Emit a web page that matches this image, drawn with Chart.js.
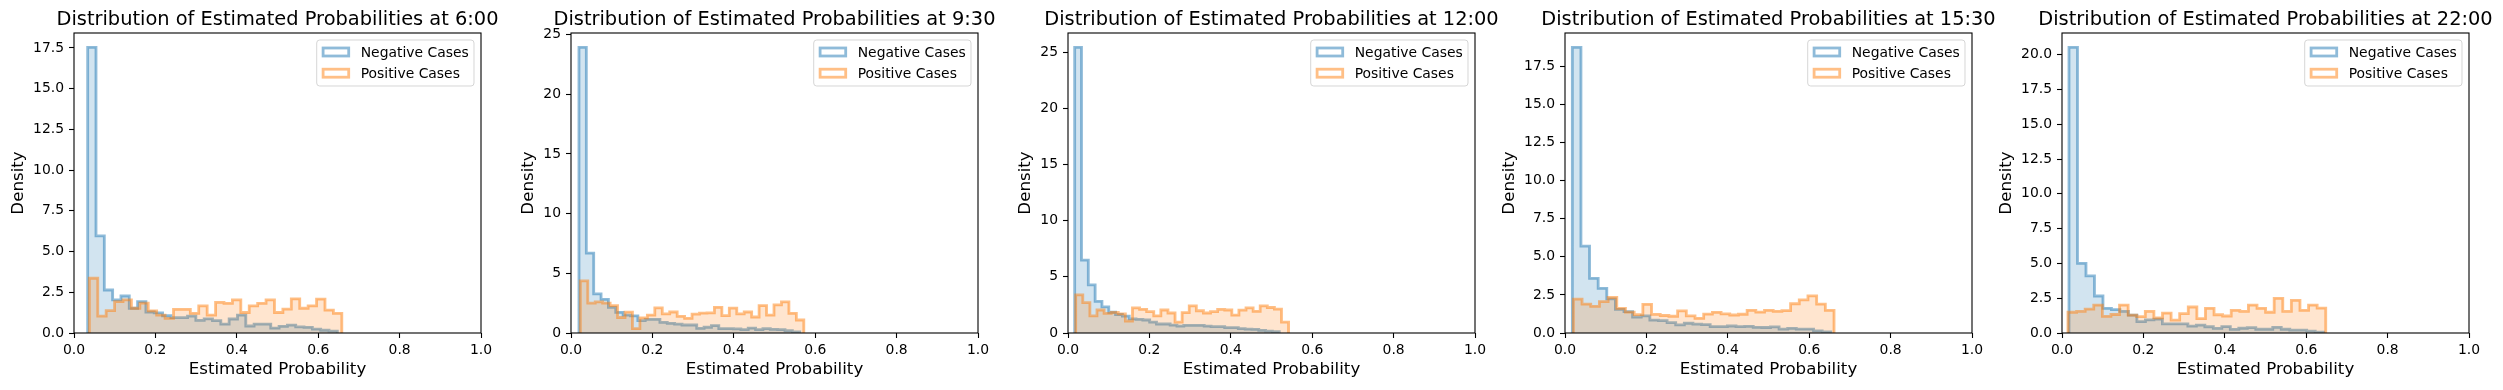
<!DOCTYPE html>
<html>
<head>
<meta charset="utf-8">
<script src="https://cdn.jsdelivr.net/npm/chart.js@4.4.1/dist/chart.umd.min.js"></script>
<style>
  html, body { margin: 0; padding: 0; background: #fff; overflow: hidden; }
  #wrap { position: relative; width: 2503px; height: 390px; }
  #wrap canvas { position: absolute; top: 0; }
</style>
</head>
<body>
<div id="wrap"></div>
<script>
// snapshot times, one panel each
const times = ['6:00', '9:30', '12:00', '15:30', '22:00'];

// histogram range [min, max] of each series, 30 equal bins
const negRanges = [[0.0336, 0.647], [0.0196, 0.562], [0.0164, 0.519], [0.018, 0.653], [0.0172, 0.643]];
const posRanges = [[0.0377, 0.658], [0.0229, 0.572], [0.0189, 0.542], [0.0205, 0.661], [0.0147, 0.648]];

// density per bin
const neg600 = [17.54, 5.96, 2.64, 2.03, 2.27, 1.52, 1.93, 1.29, 1.23, 1.06, 0.94, 0.94, 1.03, 0.77, 0.87,
                0.76, 0.55, 0.86, 1.1, 0.43, 0.54, 0.54, 0.3, 0.41, 0.48, 0.37, 0.35, 0.24, 0.17, 0.11];
const pos600 = [3.36, 1.03, 1.37, 1.93, 2.03, 1.52, 1.84, 1.36, 1.1, 0.9, 1.45, 1.45, 1.21, 1.66, 1.1,
                1.88, 1.82, 2.03, 1.26, 1.66, 1.82, 2.03, 1.26, 1.46, 2.1, 1.52, 1.67, 2.08, 1.41, 1.21];
const neg930 = [23.94, 6.7, 3.27, 2.82, 2.15, 1.73, 1.5, 1.44, 1.03, 1.15, 1.15, 0.89, 0.81, 0.74, 0.67,
                0.67, 0.39, 0.48, 0.62, 0.37, 0.37, 0.34, 0.29, 0.41, 0.29, 0.36, 0.3, 0.28, 0.19, 0.1];
const pos930 = [4.36, 2.5, 2.6, 2.5, 2.3, 1.3, 1.75, 0.37, 1.27, 1.5, 2.1, 1.6, 1.76, 1.4, 1.23,
                1.58, 1.67, 1.68, 2.15, 1.45, 2.08, 1.6, 1.76, 1.34, 2.3, 1.5, 2.35, 2.6, 1.65, 1.09];
const neg1200 = [25.45, 6.5, 4.28, 2.82, 2.32, 1.85, 1.65, 1.5, 1.25, 1.22, 1.16, 0.96, 0.8, 0.8, 0.71,
                 0.62, 0.68, 0.68, 0.68, 0.62, 0.56, 0.56, 0.48, 0.48, 0.39, 0.35, 0.33, 0.24, 0.16, 0.12];
const pos1200 = [3.39, 2.7, 1.52, 2.05, 1.75, 1.84, 1.7, 1.07, 2.23, 2.11, 1.9, 1.53, 2.05, 1.78, 0.96,
                 1.82, 2.41, 1.98, 1.78, 1.9, 2.1, 2.05, 1.6, 2.03, 2.23, 1.93, 2.41, 2.27, 2.12, 0.96];
const neg1530 = [18.75, 5.7, 3.59, 2.93, 2.24, 1.55, 1.4, 1.05, 1.12, 0.85, 0.81, 0.68, 0.53, 0.64, 0.58,
                 0.55, 0.42, 0.42, 0.46, 0.42, 0.44, 0.37, 0.36, 0.4, 0.25, 0.31, 0.26, 0.26, 0.14, 0.08];
const pos1530 = [2.22, 1.9, 1.75, 2.06, 2.33, 1.62, 1.37, 1.2, 1.88, 1.22, 1.15, 1.1, 1.45, 1.12, 0.96,
                 1.24, 1.36, 1.25, 1.18, 1.23, 1.49, 1.37, 1.49, 1.42, 1.47, 1.92, 2.17, 2.43, 1.9, 1.49];
const neg2200 = [20.53, 5.01, 4.1, 2.66, 1.77, 1.68, 1.55, 1.29, 0.82, 0.94, 1.0, 0.65, 0.65, 0.65, 0.5,
                 0.56, 0.45, 0.33, 0.46, 0.26, 0.34, 0.38, 0.27, 0.27, 0.4, 0.27, 0.2, 0.2, 0.13, 0.06];
const pos2200 = [1.49, 1.55, 1.72, 2.01, 1.2, 1.33, 2.01, 1.29, 1.18, 1.55, 1.08, 1.43, 0.92, 1.39, 1.87,
                 1.04, 1.77, 1.31, 1.22, 1.63, 1.55, 2.01, 1.77, 1.49, 2.49, 1.55, 2.35, 1.63, 2.01, 1.79];

const negSeries = [neg600, neg930, neg1200, neg1530, neg2200];
const posSeries = [pos600, pos930, pos1200, pos1530, pos2200];

// y tick spacing and label decimals per panel
const yStep = [2.5, 5, 5, 2.5, 2.5];
const yDecimals = [1, 0, 0, 1, 1];
const xTickStep = 0.2;

const FONT = 'DejaVu Sans';
Chart.defaults.font.family = FONT;
Chart.defaults.color = '#000';

// step outline ('before' stepping): each point holds its bin height until the next edge
function stepPoints(range, heights) {
    const n = heights.length;
    const w = (range[1] - range[0]) / n;
    const pts = [{ x: range[0], y: 0 }];
    heights.forEach((h, i) => pts.push({ x: range[0] + i * w, y: h }));
    pts.push({ x: range[1], y: 0 });
    return pts;
}

const decor = {
    id: 'decor',
    afterDraw(chart, args, opts) {
        const { ctx, chartArea: a } = chart;
        ctx.save();
        // axes frame
        ctx.strokeStyle = '#000';
        ctx.lineWidth = 1.1;
        ctx.strokeRect(a.left, a.top, a.right - a.left, a.bottom - a.top);

        // title
        ctx.fillStyle = '#000';
        ctx.font = '19.4px "' + FONT + '"';
        ctx.textAlign = 'center';
        ctx.textBaseline = 'alphabetic';
        ctx.fillText(opts.title, (a.left + a.right) / 2, 25);

        // legend
        const fx = a.right - 164.3, fy = a.top + 7, fw = 157.3, fh = 46;
        ctx.beginPath();
        ctx.roundRect(fx, fy, fw, fh, 3);
        ctx.fillStyle = 'rgba(255,255,255,0.8)';
        ctx.fill();
        ctx.strokeStyle = 'rgba(204,204,204,0.8)';
        ctx.lineWidth = 1;
        ctx.stroke();

        const rows = [
            { label: 'Negative Cases', color: 'rgba(31,119,180,0.5)', cy: a.top + 19 },
            { label: 'Positive Cases', color: 'rgba(255,127,14,0.5)', cy: a.top + 40.2 }
        ];
        ctx.font = '13.9px "' + FONT + '"';
        ctx.textAlign = 'left';
        rows.forEach(r => {
            ctx.strokeStyle = r.color;
            ctx.lineWidth = 2.8;
            ctx.strokeRect(fx + 19.2 - 12.8, r.cy - 4, 25.6, 8);
            ctx.fillStyle = '#000';
            ctx.fillText(r.label, fx + 44, r.cy + 4.9);
        });
        ctx.restore();
    }
};

const wrap = document.getElementById('wrap');

function renderPanel(i) {
    const canvas = document.createElement('canvas');
    canvas.width = 505;
    canvas.height = 390;
    canvas.style.left = (i * 497) + 'px';
    wrap.appendChild(canvas);

    const yMax = Math.max(...negSeries[i], ...posSeries[i]) * 1.05;
    const tickFont = { family: FONT, size: 13.9 };
    const labelFont = { family: FONT, size: 16.67 };
    const yTitlePad = (i === 1 || i === 2) ? 22 : 9;

    new Chart(canvas.getContext('2d'), {
        type: 'line',
        data: {
            datasets: [{
                label: 'Negative Cases',
                data: stepPoints(negRanges[i], negSeries[i]),
                stepped: 'before',
                borderColor: 'rgba(31,119,180,0.5)',
                backgroundColor: 'rgba(31,119,180,0.2)',
                borderWidth: 2.8,
                fill: 'origin',
                pointRadius: 0,
                order: 2
            }, {
                label: 'Positive Cases',
                data: stepPoints(posRanges[i], posSeries[i]),
                stepped: 'before',
                borderColor: 'rgba(255,127,14,0.5)',
                backgroundColor: 'rgba(255,127,14,0.2)',
                borderWidth: 2.8,
                fill: 'origin',
                pointRadius: 0,
                order: 1
            }]
        },
        options: {
            responsive: false,
            animation: false,
            layout: { padding: { top: 33, right: 24, left: 0, bottom: 0 } },
            plugins: {
                legend: { display: false },
                tooltip: { enabled: false },
                decor: { title: 'Distribution of Estimated Probabilities at ' + times[i] }
            },
            scales: {
                x: {
                    type: 'linear',
                    min: 0,
                    max: 1,
                    ticks: { stepSize: xTickStep, callback: v => v.toFixed(1), font: tickFont, color: '#000', padding: 4, maxRotation: 0 },
                    grid: { drawOnChartArea: false, tickLength: 5, tickColor: '#000', tickWidth: 1.1 },
                    border: { display: false },
                    title: { display: true, text: 'Estimated Probability', font: labelFont, color: '#000', padding: { top: 0, bottom: 10 } },
                    afterFit: s => { s.height = 57; }
                },
                y: {
                    type: 'linear',
                    min: 0,
                    max: yMax,
                    ticks: { stepSize: yStep[i], includeBounds: false, callback: v => v.toFixed(yDecimals[i]), font: tickFont, color: '#000', padding: 5 },
                    grid: { drawOnChartArea: false, tickLength: 5, tickColor: '#000', tickWidth: 1.1 },
                    border: { display: false },
                    title: { display: true, text: 'Density', font: labelFont, color: '#000', padding: { top: yTitlePad, bottom: 0 } },
                    afterFit: s => { s.width = 74; }
                }
            }
        },
        plugins: [decor]
    });
}

times.forEach((t, i) => renderPanel(i));
</script>
</body>
</html>
